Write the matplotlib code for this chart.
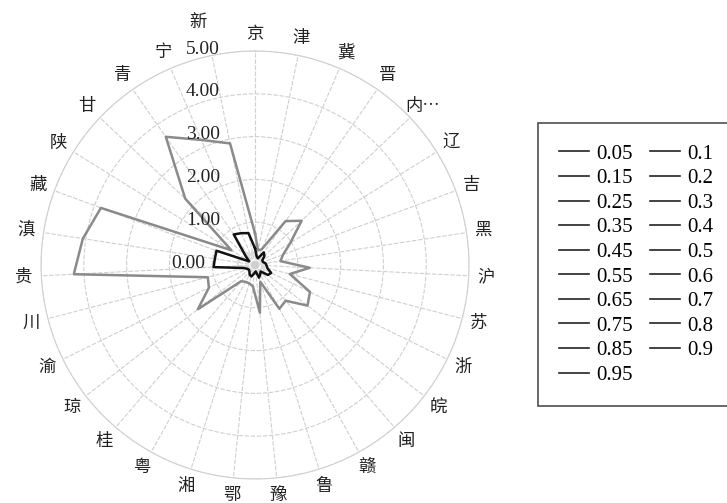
import numpy as np
import matplotlib
matplotlib.use('Agg')
import matplotlib.pyplot as plt
from matplotlib.lines import Line2D

plt.rcParams['font.family'] = ['Liberation Serif', 'Noto Sans CJK SC']

# 省份（京在正上方，顺时针）
provinces = ['京', '津', '冀', '晋', '内…', '辽', '吉', '黑', '沪', '苏', '浙', '皖', '闽', '赣',
             '鲁', '豫', '鄂', '湘', '粤', '桂', '琼', '渝', '川', '贵', '滇', '藏', '陕', '甘',
             '青', '宁', '新']

quantiles = ['0.05', '0.1', '0.15', '0.2', '0.25', '0.3', '0.35', '0.4', '0.45', '0.5',
             '0.55', '0.6', '0.65', '0.7', '0.75', '0.8', '0.85', '0.9', '0.95']

# 外圈灰线
q_low = [0.74, 0.35, 0.40, 1.25, 1.50, 0.97, 0.70, 0.60, 1.28, 0.84, 1.43, 1.55, 1.10, 1.17,
         0.41, 1.12, 0.50, 0.45, 0.45, 0.50, 1.69, 1.20, 1.14, 4.24, 4.07, 3.84, 0.65, 2.25,
         3.65, 3.18, 2.90]
# 内圈黑线
q_high = [0.39, 0.20, 0.17, 0.36, 0.30, 0.20, 0.20, 0.25, 0.27, 0.30, 0.42, 0.38, 0.20, 0.25,
          0.31, 0.15, 0.20, 0.28, 0.26, 0.20, 0.18, 0.20, 0.28, 0.97, 0.95, 0.96, 0.16, 0.30,
          0.87, 0.81, 0.76]
# 中间分位数（重叠在中心附近）
q_mid = [0.25, 0.15, 0.15, 0.20, 0.20, 0.15, 0.15, 0.15, 0.20, 0.20, 0.25, 0.25, 0.15, 0.15,
         0.20, 0.20, 0.20, 0.15, 0.15, 0.15, 0.15, 0.15, 0.20, 0.40, 0.40, 0.40, 0.20, 0.20,
         0.35, 0.25, 0.30]

n = len(provinces)
theta = np.linspace(0, 2 * np.pi, n, endpoint=False)
theta_c = np.append(theta, theta[0])

fig = plt.figure(figsize=(7.27, 5.03), dpi=100)
ax = fig.add_axes([0.0564, 0.0477, 0.5888, 0.8509], projection='polar')
ax.set_theta_zero_location('N')
ax.set_theta_direction(-1)

for i, q in enumerate(quantiles):
    if i == 0:
        vals, col, lw, z = q_low, '#8a8a8a', 1.8, 3
    elif i == len(quantiles) - 1:
        vals, col, lw, z = q_high, '#111111', 1.8, 4
    else:
        vals, col, lw, z = q_mid, '#dcdcdc', 1.0, 2
    ax.plot(theta_c, vals + vals[:1], color=col, lw=lw, zorder=z, label=q)

ax.set_ylim(0, 5)
ax.set_yticks([1, 2, 3, 4, 5])
ax.set_yticklabels([])
ax.set_xticks(theta)
# 新 标签与 5.00 重叠，单独放在外侧
ax.set_xticklabels(provinces[:-1] + [''], family=['Noto Sans CJK SC'], fontsize=12.5,
                   color='#222222')
ax.annotate(provinces[-1], (theta[-1], 5.8), xytext=(-7, 0), textcoords='offset pixels',
            ha='center', va='center', family=['Noto Sans CJK SC'], fontsize=12.5,
            color='#222222', annotation_clip=False)
ax.tick_params(axis='x', pad=2)
ax.grid(True, color='#cfcfcf', lw=0.8, ls=(0, (4, 1.5)))
ax.spines['polar'].set_color('#cfcfcf')
ax.spines['polar'].set_linewidth(0.8)

# 数值刻度标签（沿京轴左侧）
for v in range(6):
    dx = -50 if v == 0 else -35
    ax.annotate('%.2f' % v, (0, v), xytext=(dx, 2), textcoords='offset pixels',
                ha='right', va='center', fontsize=14, color='#222222', zorder=5)

order = list(range(0, 19, 2)) + list(range(1, 19, 2))
handles = [Line2D([], [], color='#222222', lw=1.2) for _ in order]
labels = [quantiles[i] for i in order]
leg = fig.legend(handles, labels, loc='upper left', bbox_to_anchor=(0.740, 0.655, 0.27, 0.1),
                 mode='expand', ncol=2, fontsize=15, frameon=True, fancybox=False,
                 handlelength=1.45, handletextpad=0.35, labelspacing=0.24,
                 borderaxespad=0, borderpad=1.0, columnspacing=1.9)
leg.get_frame().set_edgecolor('#222222')
leg.get_frame().set_linewidth(1.2)

fig.savefig('out.png', dpi=100)
